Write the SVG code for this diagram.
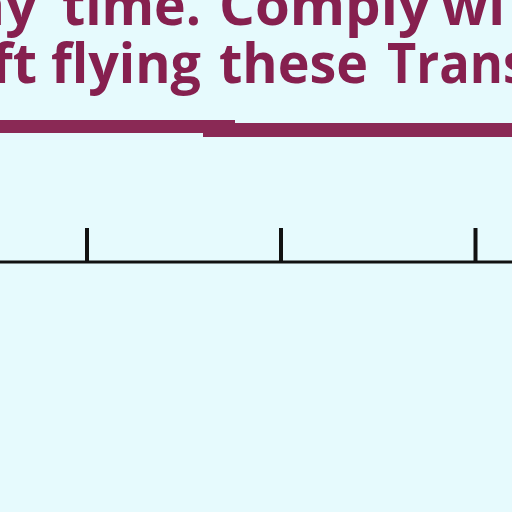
<svg xmlns="http://www.w3.org/2000/svg" width="512" height="512" viewBox="0 0 512 512">
<style>
.t{font-family:"Open Sans",Lato,"Liberation Sans",sans-serif;font-weight:bold;font-size:56px;fill:#86204F}
.ax{stroke:#111;fill:none}
</style>
<rect width="512" height="512" fill="#E6FAFD"/>
<g id="title">
<text class="t" y="25" x="37" text-anchor="end">ny</text>
<text class="t" y="25" x="62" textLength="139" lengthAdjust="spacingAndGlyphs">time.</text>
<text class="t" y="25" x="219" textLength="211" lengthAdjust="spacingAndGlyphs">Comply</text>
<text class="t" y="25" x="441" textLength="64" lengthAdjust="spacingAndGlyphs">wi</text>
<text class="t" y="83" x="37" text-anchor="end">ft</text>
<text class="t" y="83" x="51" textLength="150" lengthAdjust="spacingAndGlyphs">flying</text>
<text class="t" y="83" x="219" textLength="149" lengthAdjust="spacingAndGlyphs">these</text>
<text class="t" y="83" x="387" textLength="141" lengthAdjust="spacingAndGlyphs">Trans</text>
</g>
<g id="rule">
<rect x="0" y="120" width="235" height="13" fill="#8A2955"/>
<rect x="203" y="123" width="309" height="14" fill="#8A2955"/>
</g>
<g id="connectors">
<line class="ax" x1="0" y1="262" x2="512" y2="262" stroke-width="3"/>
<line class="ax" x1="87" y1="228" x2="87" y2="262" stroke-width="4"/>
<line class="ax" x1="281" y1="228" x2="281" y2="262" stroke-width="4"/>
<line class="ax" x1="475.5" y1="228" x2="475.5" y2="262" stroke-width="4"/>
</g>
</svg>
